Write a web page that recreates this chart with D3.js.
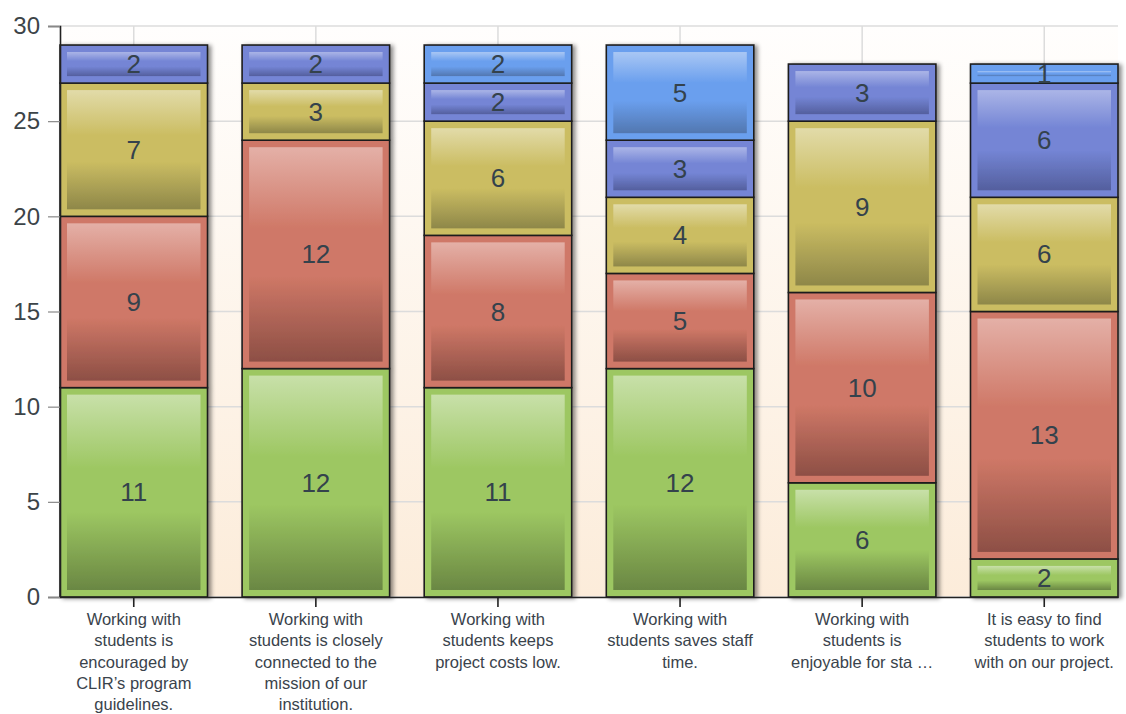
<!DOCTYPE html>
<html>
<head>
<meta charset="utf-8">
<script src="https://cdn.jsdelivr.net/npm/d3@7"></script>
<style>
  body { margin: 0; background: #fff; }
  svg { display: block; font-family: "Liberation Sans", Arial, sans-serif; }
</style>
</head>
<body>
<div id="vis"></div>
<script>
// categories (tick labels, already wrapped the way the chart shows them)
const categories = [
  ["Working with", "students is", "encouraged by", "CLIR\u2019s program", "guidelines."],
  ["Working with", "students is closely", "connected to the", "mission of our", "institution."],
  ["Working with", "students keeps", "project costs low."],
  ["Working with", "students saves staff", "time."],
  ["Working with", "students is", "enjoyable for sta \u2026"],
  ["It is easy to find", "students to work", "with on our project."]
];

// series, bottom to top
const seriesA = [11, 12, 11, 12, 6, 2];   // green
const seriesB = [9, 12, 8, 5, 10, 13];    // red
const seriesC = [7, 3, 6, 4, 9, 6];       // yellow
const seriesD = [2, 2, 2, 3, 3, 6];       // purple-blue
const seriesE = [0, 0, 2, 5, 0, 1];       // light blue

const yTicks = [0, 5, 10, 15, 20, 25, 30];

const palette = [
  { base: "#9dc762", light: "#c8e0a9", dark: "#6a8743" },
  { base: "#cf7867", light: "#e4b0a7", dark: "#8d4f45" },
  { base: "#cbbd62", light: "#e2dba9", dark: "#8e8749" },
  { base: "#7485d5", light: "#abb5e7", dark: "#545f9e" },
  { base: "#6a9fee", light: "#a9c7f4", dark: "#5277b0" }
];

const W = 1126, H = 714;
const margin = { top: 26, right: 8, bottom: 117, left: 60 };
const plotW = W - margin.left - margin.right;
const plotH = H - margin.top - margin.bottom;

const rows = categories.map((c, i) => ({
  i: i,
  s0: seriesA[i], s1: seriesB[i], s2: seriesC[i], s3: seriesD[i], s4: seriesE[i]
}));
const keys = ["s0", "s1", "s2", "s3", "s4"];

const svg = d3.select("#vis").append("svg")
  .attr("width", W)
  .attr("height", H);

const defs = svg.append("defs");

const bg = defs.append("linearGradient")
  .attr("id", "bg").attr("x1", 0).attr("y1", 0).attr("x2", 0).attr("y2", 1);
bg.append("stop").attr("offset", "0%").attr("stop-color", "#fffefd");
bg.append("stop").attr("offset", "100%").attr("stop-color", "#fcecda");

palette.forEach((p, k) => {
  const g = defs.append("linearGradient")
    .attr("id", "grad" + k).attr("x1", 0).attr("y1", 0).attr("x2", 0).attr("y2", 1);
  g.append("stop").attr("offset", "0%").attr("stop-color", p.light);
  g.append("stop").attr("offset", "38%").attr("stop-color", p.base);
  g.append("stop").attr("offset", "60%").attr("stop-color", p.base);
  g.append("stop").attr("offset", "100%").attr("stop-color", p.dark);
});

const shadow = defs.append("filter")
  .attr("id", "shadow")
  .attr("x", "-10%").attr("y", "-10%").attr("width", "130%").attr("height", "130%");
shadow.append("feDropShadow")
  .attr("dx", 3).attr("dy", 1)
  .attr("stdDeviation", 2)
  .attr("flood-color", "#000")
  .attr("flood-opacity", 0.45);

const g = svg.append("g")
  .attr("transform", `translate(${margin.left},${margin.top})`);

const x = d3.scaleBand()
  .domain(d3.range(categories.length))
  .range([0, plotW])
  .paddingInner(0.19)
  .paddingOuter(0);

const y = d3.scaleLinear()
  .domain([0, 30])
  .range([plotH, 0]);

// plot background
g.append("rect")
  .attr("width", plotW)
  .attr("height", plotH)
  .attr("fill", "url(#bg)");

// grid
g.append("g")
  .selectAll("line")
  .data(yTicks)
  .enter().append("line")
  .attr("x1", 0).attr("x2", plotW)
  .attr("y1", d => y(d)).attr("y2", d => y(d))
  .attr("stroke", "#dcdcdc")
  .attr("stroke-width", 1.5);

g.append("g")
  .selectAll("line")
  .data(d3.range(categories.length))
  .enter().append("line")
  .attr("x1", d => x(d) + x.bandwidth() / 2)
  .attr("x2", d => x(d) + x.bandwidth() / 2)
  .attr("y1", 0).attr("y2", plotH)
  .attr("stroke", "#dcdcdc")
  .attr("stroke-width", 1.5);

// bars
const stacked = d3.stack().keys(keys)(rows);
const inset = 7;

const cols = g.append("g")
  .selectAll("g.col")
  .data(rows)
  .enter().append("g")
  .attr("class", "col")
  .attr("filter", "url(#shadow)");

cols.each(function(row) {
  const col = d3.select(this);
  stacked.forEach((layer, k) => {
    const d = layer[row.i];
    if (d[1] - d[0] <= 0) return;
    const x0 = x(row.i), bw = x.bandwidth();
    const yTop = y(d[1]), yBot = y(d[0]);
    col.append("rect")
      .attr("x", x0).attr("y", yTop)
      .attr("width", bw).attr("height", yBot - yTop)
      .attr("fill", palette[k].base);
    col.append("rect")
      .attr("x", x0 + inset).attr("y", yTop + inset)
      .attr("width", bw - 2 * inset)
      .attr("height", Math.max(0, yBot - yTop - 2 * inset))
      .attr("fill", `url(#grad${k})`);
    col.append("rect")
      .attr("x", x0).attr("y", yTop)
      .attr("width", bw).attr("height", yBot - yTop)
      .attr("fill", "none")
      .attr("stroke", "#1e1e1e")
      .attr("stroke-width", 1.6);
  });
});

// value labels
stacked.forEach((layer, k) => {
  g.append("g")
    .selectAll("text")
    .data(layer.filter(d => d[1] - d[0] > 0))
    .enter().append("text")
    .attr("x", d => x(d.data.i) + x.bandwidth() / 2)
    .attr("y", d => y((d[0] + d[1]) / 2))
    .attr("text-anchor", "middle")
    .attr("dominant-baseline", "central")
    .attr("font-size", 26)
    .attr("fill", "#34424c")
    .text(d => d[1] - d[0]);
});

// y axis
const yAxis = g.append("g")
  .call(d3.axisLeft(y).tickValues(yTicks).tickSize(12).tickPadding(8));
yAxis.select(".domain").attr("stroke", "#222").attr("stroke-width", 1.6);
yAxis.selectAll(".tick line").attr("stroke", "#888").attr("stroke-width", 1.2);
yAxis.selectAll(".tick text")
  .attr("font-size", 24)
  .attr("fill", "#3c4448")
  .attr("font-family", "Liberation Sans, Arial, sans-serif");

// x axis
const xAxis = g.append("g")
  .attr("transform", `translate(0,${plotH})`)
  .call(d3.axisBottom(x).tickSize(10).tickSizeOuter(0).tickFormat(""));
xAxis.select(".domain").attr("stroke", "#222").attr("stroke-width", 1.6);
xAxis.selectAll(".tick line").attr("stroke", "#222").attr("stroke-width", 1.6);

xAxis.selectAll(".tick").each(function(i) {
  const t = d3.select(this).append("text")
    .attr("text-anchor", "middle")
    .attr("font-size", 16.5)
    .attr("fill", "#3a434c")
    .attr("font-family", "Liberation Sans, Arial, sans-serif")
    .attr("y", 28);
  categories[i].forEach((line, j) => {
    t.append("tspan")
      .attr("x", 0)
      .attr("dy", j === 0 ? 0 : 21.3)
      .text(line);
  });
});
</script>
</body>
</html>
